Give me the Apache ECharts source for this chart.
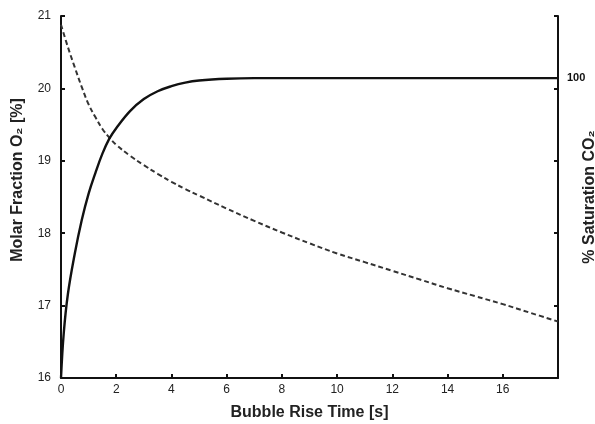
<!DOCTYPE html>
<html>
<head>
<meta charset="utf-8">
<script src="https://cdn.jsdelivr.net/npm/echarts@6/dist/echarts.min.js"></script>
<style>html,body{margin:0;padding:0;background:#fff}#c{width:595px;height:424px}</style>
</head>
<body>
<div id="c"></div>
<script>
// Molar fraction O2 (dashed, left axis)
const o2Time = [0, 0.25, 0.5, 0.75, 1.0, 1.25, 1.5, 1.75, 2, 2.5, 3, 3.5, 4, 4.5, 5, 6, 7, 8, 9, 10, 11, 12, 13, 14, 15, 16, 17, 18];
const o2Values = [20.88, 20.57, 20.29, 20.02, 19.78, 19.6, 19.44, 19.32, 19.22, 19.07, 18.94, 18.82, 18.71, 18.61, 18.52, 18.34, 18.17, 18.01, 17.86, 17.72, 17.6, 17.48, 17.36, 17.24, 17.13, 17.02, 16.9, 16.78];
// % saturation CO2 (solid, right axis)
const co2Time = [0, 0.1, 0.25, 0.5, 0.75, 1.0, 1.25, 1.5, 1.75, 2, 2.5, 3, 3.5, 4, 4.5, 5, 6, 7, 8, 10, 12, 14, 16, 18];
const co2Values = [0, 15, 28, 41.5, 52.6, 61.5, 68.5, 74.8, 79.8, 83.3, 89, 93, 95.6, 97.3, 98.5, 99.2, 99.8, 100, 100, 100, 100, 100, 100, 100];
const xTicks = [0, 2, 4, 6, 8, 10, 12, 14, 16];
const o2Ticks = [16, 17, 18, 19, 20, 21];

const FONT = '"Liberation Sans", Arial, Helvetica, sans-serif';
const zip = (a, b) => a.map((v, i) => [v, b[i]]);
const lineStyleAxis = { color: '#111', width: 2 };

const chart = echarts.init(document.getElementById('c'), null, { renderer: 'canvas' });
chart.setOption({
  animation: false,
  backgroundColor: '#fff',
  textStyle: { fontFamily: FONT },
  grid: { left: 61, right: 37, top: 16, bottom: 46, containLabel: false, outerBoundsMode: 'none' },
  xAxis: {
    type: 'value', min: 0, max: 18, interval: 2,
    name: 'Bubble Rise Time [s]', nameLocation: 'middle', nameGap: 27,
    nameTextStyle: { fontFamily: FONT, fontSize: 16, fontWeight: 'bold', color: '#222' },
    axisLine: { show: true, lineStyle: lineStyleAxis },
    axisTick: { show: true, inside: true, length: 4, lineStyle: { color: '#111', width: 2 } },
    axisLabel: { fontFamily: FONT, fontSize: 12, color: '#222', margin: 6,
      formatter: v => xTicks.indexOf(v) >= 0 ? String(v) : '' },
    splitLine: { show: false }
  },
  yAxis: [
    {
      type: 'value', min: 16, max: 21, interval: 1, position: 'left',
      name: 'Molar Fraction O₂ [%]', nameLocation: 'middle', nameGap: 35, nameMoveOverlap: false,
      nameTextStyle: { fontFamily: FONT, fontSize: 16, fontWeight: 'bold', color: '#222', padding: [0, 0, 0, 34] },
      axisLine: { show: true, lineStyle: lineStyleAxis },
      axisTick: { show: true, inside: true, length: 4, lineStyle: { color: '#111', width: 2 } },
      axisLabel: { fontFamily: FONT, fontSize: 12, color: '#222', margin: 10,
        formatter: v => o2Ticks.indexOf(v) >= 0 ? String(v) : '' },
      splitLine: { show: false }
    },
    {
      type: 'value', min: 16, max: 21, interval: 1, position: 'right',
      axisLine: { show: true, lineStyle: lineStyleAxis },
      axisTick: { show: true, inside: true, length: 4, lineStyle: { color: '#111', width: 2 } },
      axisLabel: { show: false },
      splitLine: { show: false }
    },
    {
      type: 'value', min: 0, max: 120.7, interval: 100, position: 'right',
      name: '% Saturation CO₂', nameLocation: 'middle', nameGap: 24, nameMoveOverlap: false,
      nameTextStyle: { fontFamily: FONT, fontSize: 16, fontWeight: 'bold', color: '#222' },
      axisLine: { show: false },
      axisTick: { show: false },
      axisLabel: { fontFamily: FONT, fontSize: 11, fontWeight: 'bold', color: '#111', margin: 9,
        formatter: v => v === 100 ? '100' : '' },
      splitLine: { show: false }
    }
  ],
  series: [
    {
      type: 'line', yAxisIndex: 0, data: zip(o2Time, o2Values),
      showSymbol: false, smooth: 0.4,
      lineStyle: { color: '#333', width: 2, type: [5, 3] }
    },
    {
      type: 'line', yAxisIndex: 2, data: zip(co2Time, co2Values),
      showSymbol: false, smooth: 0.4,
      lineStyle: { color: '#111', width: 2.4 }
    }
  ]
});
</script>
</body>
</html>
